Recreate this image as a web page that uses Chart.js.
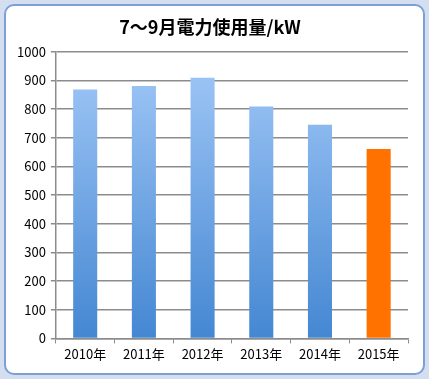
<!DOCTYPE html>
<html lang="ja">
<head>
  <meta charset="UTF-8" />
  <title>7〜9月電力使用量</title>
  <style>
    html, body { margin: 0; padding: 0; background: #d3dff0; }
    .frame {
      position: absolute; left: 4px; top: 4px; width: 417px; height: 367px;
      background: #fff; border: 2px solid #7c9fd6; border-radius: 10px;
      box-sizing: content-box;
    }
    .wrap { position: absolute; left: 0; top: 0; width: 429px; height: 379px; }
  </style>
</head>
<body>
  <div class="frame"></div>
  <div class="wrap"><canvas id="chart" width="429" height="379"></canvas></div>

  <script src="https://cdn.jsdelivr.net/npm/chart.js"></script>
  <script>
    const years = ['2010年', '2011年', '2012年', '2013年', '2014年', '2015年'];
    const usage = [868, 880, 909, 809, 745, 660];
    const yTicks = [0, 100, 200, 300, 400, 500, 600, 700, 800, 900, 1000];

    function barFill(context) {
      const chart = context.chart;
      const area = chart.chartArea;
      if (context.dataIndex === years.length - 1) return '#ff7200';
      if (!area) return '#6fa5e6';
      const g = chart.ctx.createLinearGradient(0, area.top, 0, area.bottom);
      g.addColorStop(0, '#a3c9f8');
      g.addColorStop(1, '#4487d2');
      return g;
    }

    const ctx = document.getElementById('chart').getContext('2d');
    new Chart(ctx, {
      type: 'bar',
      data: {
        labels: years,
        datasets: [{
          data: usage,
          backgroundColor: barFill,
          borderWidth: 0,
          categoryPercentage: 1,
          barPercentage: 0.41
        }]
      },
      options: {
        responsive: false,
        animation: false,
        layout: { padding: { left: 12, right: 21, top: 0, bottom: 14 } },
        plugins: {
          legend: { display: false },
          tooltip: { enabled: false },
          title: {
            display: true,
            text: '7〜9月電力使用量/kW',
            color: '#000',
            font: { family: '"Noto Sans CJK JP", sans-serif', size: 18, weight: 'bold' },
            padding: { top: 16, bottom: 14 }
          }
        },
        scales: {
          x: {
            grid: { display: true, drawOnChartArea: false, offset: true, tickLength: 5, color: '#8c8c8c' },
            border: { color: '#8c8c8c', width: 1.5 },
            ticks: {
              color: '#000', padding: 3,
              font: { family: '"Noto Sans CJK JP", sans-serif', size: 13 }
            }
          },
          y: {
            min: 0, max: 1000,
            afterBuildTicks: (axis) => { axis.ticks = yTicks.map(v => ({ value: v })); },
            grid: { color: '#8c8c8c', lineWidth: 1.5, tickLength: 5 },
            border: { color: '#8c8c8c', width: 1.5 },
            ticks: {
              color: '#000', padding: 5,
              callback: (v) => String(v),
              font: { family: '"Noto Sans CJK JP", sans-serif', size: 13 }
            }
          }
        }
      }
    });
  </script>
</body>
</html>
